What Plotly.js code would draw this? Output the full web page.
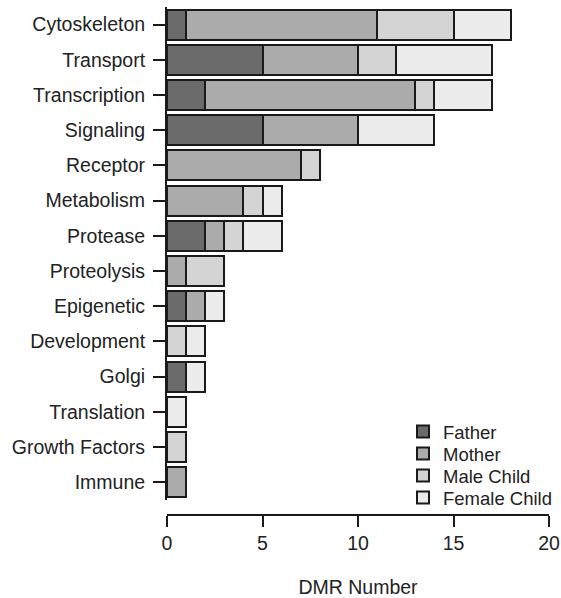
<!DOCTYPE html>
<html>
<head>
<meta charset="utf-8">
<script src="https://cdn.plot.ly/plotly-3.0.1.min.js"></script>
<style>html,body{margin:0;padding:0;background:#fff;}#chart{width:561px;height:598px;}</style>
</head>
<body>
<div id="chart"></div>
<script>
const categories = ["Cytoskeleton","Transport","Transcription","Signaling","Receptor","Metabolism","Protease","Proteolysis","Epigenetic","Development","Golgi","Translation","Growth Factors","Immune"];
const father      = [1, 5, 2, 5, 0, 0, 2, 0, 1, 0, 1, 0, 0, 0];
const mother      = [10, 5, 11, 5, 7, 4, 1, 1, 1, 0, 0, 0, 0, 1];
const maleChild   = [4, 2, 1, 0, 1, 1, 1, 2, 0, 1, 0, 0, 1, 0];
const femaleChild = [3, 5, 3, 4, 0, 1, 2, 0, 1, 1, 1, 1, 0, 0];
const seriesNames = ["Father","Mother","Male Child","Female Child"];
const seriesColors = ["#6b6b6b","#ababab","#d4d4d4","#ececec"];
const xTicks = [0,5,10,15,20];

const font = "Liberation Sans, Arial, Helvetica, sans-serif";
const legendIds = ["legend","legend2","legend3","legend4"];
const data = [father, mother, maleChild, femaleChild].map((vals, i) => ({
  type: "bar",
  orientation: "h",
  y: categories,
  x: vals,
  name: seriesNames[i],
  legend: legendIds[i],
  marker: {color: seriesColors[i], line: {color: "#1a1a1a", width: 2}}
}));

const plotTop = 7, plotBottom = 515, plotH = plotBottom - plotTop;
const legendCentersPx = [432, 454, 476, 498];
const legendLeftPx = 403, plotLeft = 167, plotW = 549 - 167;

const layout = {
  width: 561, height: 598,
  margin: {l: plotLeft, r: 561 - 549, t: plotTop, b: 598 - plotBottom, autoexpand: false},
  barmode: "stack",
  bargap: 0.15,
  paper_bgcolor: "#fff", plot_bgcolor: "#fff",
  font: {family: font, size: 19.5, color: "#222"},
  showlegend: true,
  xaxis: {
    range: [0, 20],
    anchor: "free", position: 0,
    tickvals: xTicks, ticktext: xTicks.map(String),
    ticks: "outside", ticklen: 11, tickwidth: 2, tickcolor: "#1a1a1a",
    showline: true, linecolor: "#1a1a1a", linewidth: 2,
    showgrid: false, zeroline: false,
    tickfont: {family: font, size: 19.5, color: "#222"},
    title: {text: "DMR Number", font: {family: font, size: 19.5, color: "#222"}, standoff: 26}
  },
  yaxis: {
    domain: [0.03, 1],
    autorange: "reversed",
    categoryorder: "array", categoryarray: categories,
    ticks: "outside", ticklen: 12, tickwidth: 2, tickcolor: "#1a1a1a",
    ticklabelstandoff: 4,
    showline: true, linecolor: "#1a1a1a", linewidth: 2,
    showgrid: false, zeroline: false,
    tickfont: {family: font, size: 19.5, color: "#222"}
  }
};
legendIds.forEach((id, i) => {
  layout[id] = {
    x: (legendLeftPx - plotLeft) / plotW,
    y: (plotBottom - legendCentersPx[i]) / plotH,
    xanchor: "left", yanchor: "middle",
    font: {family: font, size: 18.5, color: "#222"},
    bgcolor: "rgba(0,0,0,0)",
    itemwidth: 30
  };
});

Plotly.newPlot("chart", data, layout, {displayModeBar: false, staticPlot: true});
</script>
</body>
</html>
